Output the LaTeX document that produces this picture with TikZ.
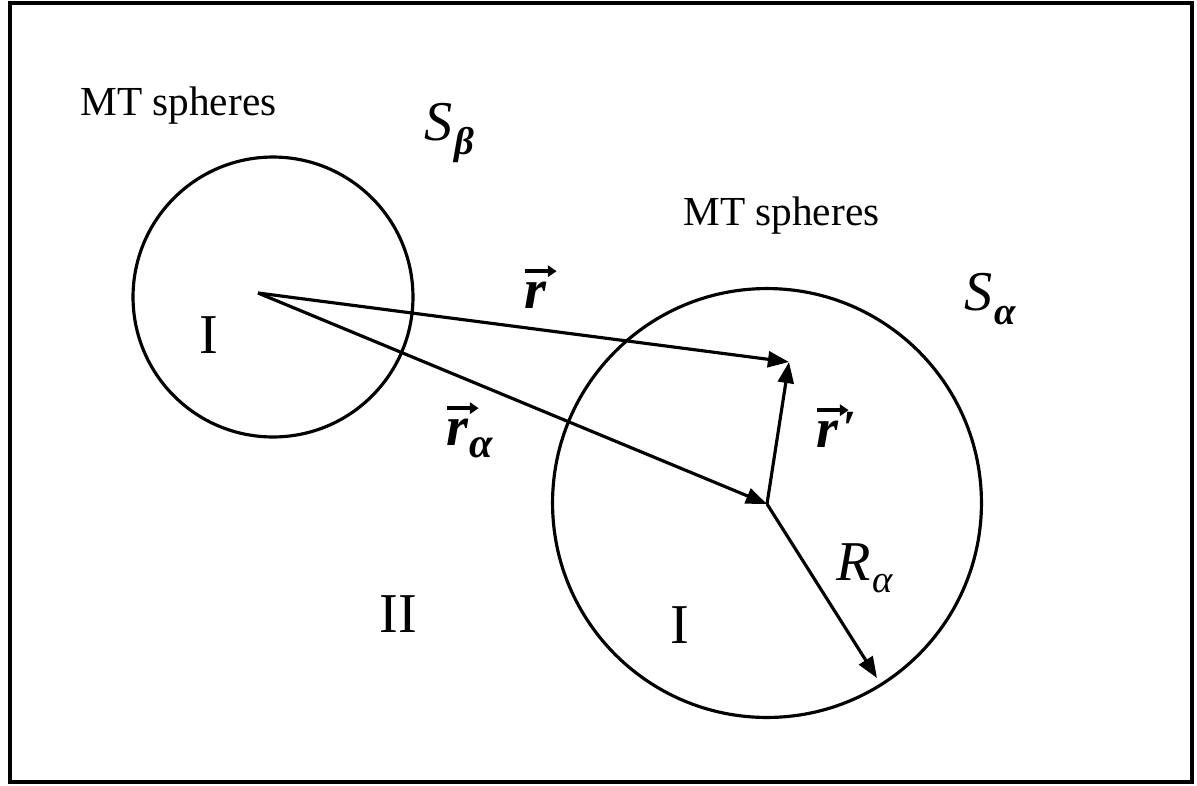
\documentclass[tikz,border=0pt]{standalone}
\usepackage{amsmath}
\usepackage{fontspec}
\setmainfont{Liberation Serif}
\usetikzlibrary{arrows.meta}
\tikzset{
  frame/.style={line width=2.3pt},
  sphere/.style={line width=1.8pt},
  vecarrow/.style={line width=1.8pt,-{Triangle[length=12pt,width=9pt]}},
  vecmark/.style={line width=2.4pt,-{Triangle[length=5pt,width=6.5pt]}},
  mtlabel/.style={anchor=base west,inner sep=0pt,font=\fontsize{23.5}{28}\selectfont},
  symlabel/.style={anchor=base west,inner sep=0pt,font=\fontsize{32}{38}\selectfont\bfseries\itshape},
  sublabel/.style={anchor=base west,inner sep=0pt,font=\fontsize{22}{26}\selectfont\itshape},
  slabel/.style={anchor=base west,inner sep=0pt,font=\fontsize{32}{38}\selectfont\itshape},
  region/.style={anchor=base,inner sep=0pt,font=\fontsize{32}{38}\selectfont}
}
\begin{document}
\begin{tikzpicture}[x=0.02cm,y=-0.02cm]
\useasboundingbox (0,0) rectangle (1197,785);
\draw[frame] (10,3) rectangle (1192,782);
% spheres
\draw[sphere] (273,297) circle[radius=2.8cm];
\draw[sphere] (767,503) circle[radius=4.29cm];
% key points
\coordinate (O) at (258,293);
\coordinate (A) at (767,504);
\coordinate (P) at (789,362);
\coordinate (Rt) at (877,678);
% vectors
\draw[vecarrow] (O) -- (P);
\draw[vecarrow] (O) -- (A);
\draw[vecarrow] (A) -- (P);
\draw[vecarrow] (A) -- (Rt);
% MT labels
\node[mtlabel] (mt1) at (80,115) {MT spheres};
\node[mtlabel] (mt2) at (683,225) {MT spheres};
% S labels
\node[slabel] (sb) at (424,140) {S};
\node[sublabel,font=\fontsize{22}{26}\selectfont\bfseries\itshape] (sbs) at ([shift={(1,14)}]sb.base east) {β};
\node[slabel] (sa) at (964,310) {S};
\node[sublabel,font=\fontsize{22}{26}\selectfont\bfseries\itshape] (sas) at ([shift={(1,14)}]sa.base east) {α};
% regions
\node[region] (i1) at (209,353) {I};
\node[region] (ii) at (398,632) {II};
\node[region] (i2) at (680,643) {I};
% vector r
\node[symlabel] (lr) at (524,308) {r};
\draw[vecmark] ([shift={(1,-10)}]lr.north west) -- ([shift={(10,-10)}]lr.north east);
% vector r_alpha
\node[symlabel] (lra) at (446,445) {r};
\draw[vecmark] ([shift={(1,-10)}]lra.north west) -- ([shift={(10,-10)}]lra.north east);
\node[sublabel,font=\fontsize{24}{28}\selectfont\bfseries\itshape] (lras) at ([shift={(1,12)}]lra.base east) {α};
% vector r'
\node[symlabel] (lrp) at (816,447) {r};
\draw[vecmark] ([shift={(1,-10)}]lrp.north west) -- ([shift={(10,-10)}]lrp.north east);
\node[symlabel,anchor=north west] (lrpp) at ([shift={(4,-8)}]lrp.north east) {\fontsize{28}{32}\selectfont ′};
% R_alpha
\node[slabel] (lR) at (836,580) {R};
\node[sublabel] (lRs) at ([shift={(1,12)}]lR.base east) {α};
\end{tikzpicture}
\end{document}
